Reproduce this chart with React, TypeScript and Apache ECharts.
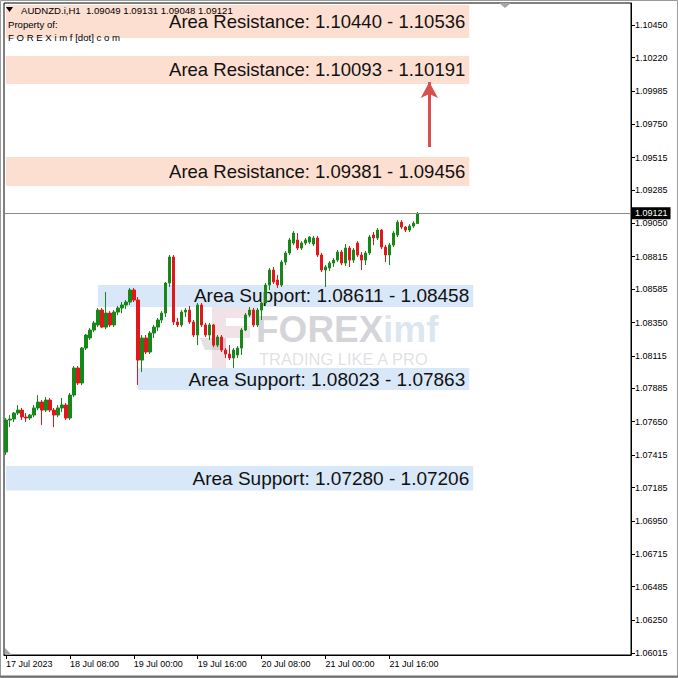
import React, { useEffect, useRef } from "react";
import * as echarts from "echarts";

// ---------- DATA ----------
const symbolTitle = "AUDNZD.i,H1";
const headerOHLC = ["1.09049", "1.09131", "1.09048", "1.09121"];
const lastPrice = 1.09121;
const totalSlots = 157; // hourly slots visible on the chart (bars + empty shift area)
const firstBarUTC = Date.UTC(2023, 6, 17, 16);

// [open, close, low, high]
const candles: number[][] = [
  [1.07436, 1.07662, 1.07415, 1.07676],
  [1.07662, 1.07669, 1.07612, 1.07697],
  [1.07669, 1.07711, 1.07648, 1.07718],
  [1.07711, 1.07732, 1.07697, 1.07768],
  [1.07732, 1.07683, 1.07662, 1.07747],
  [1.07683, 1.07676, 1.07648, 1.07711],
  [1.07676, 1.07697, 1.07662, 1.07704],
  [1.07697, 1.07747, 1.07683, 1.07768],
  [1.07747, 1.07789, 1.07732, 1.07838],
  [1.07789, 1.07732, 1.07627, 1.07803],
  [1.07732, 1.07803, 1.07718, 1.07824],
  [1.07803, 1.07732, 1.07718, 1.07817],
  [1.07732, 1.07697, 1.07612, 1.07747],
  [1.07697, 1.07747, 1.07683, 1.07768],
  [1.07747, 1.07768, 1.07718, 1.07817],
  [1.07768, 1.07676, 1.07662, 1.07782],
  [1.07676, 1.07838, 1.07662, 1.07852],
  [1.07838, 1.08029, 1.07824, 1.08043],
  [1.08029, 1.07923, 1.07909, 1.08043],
  [1.07923, 1.0817, 1.07909, 1.08177],
  [1.0817, 1.08262, 1.08156, 1.08269],
  [1.08241, 1.08297, 1.08227, 1.08311],
  [1.08297, 1.08347, 1.08283, 1.08361],
  [1.08333, 1.08438, 1.08318, 1.08453],
  [1.08438, 1.08318, 1.08311, 1.08453],
  [1.08318, 1.08417, 1.08304, 1.08566],
  [1.08417, 1.08333, 1.08318, 1.08431],
  [1.08333, 1.08424, 1.08318, 1.08438],
  [1.08424, 1.08453, 1.08403, 1.08467],
  [1.08453, 1.08474, 1.08417, 1.08495],
  [1.08474, 1.08495, 1.08446, 1.08509],
  [1.08495, 1.0858, 1.08474, 1.08594],
  [1.0858, 1.08509, 1.08495, 1.08594],
  [1.08509, 1.08085, 1.07909, 1.0853],
  [1.08085, 1.08241, 1.08001, 1.08262],
  [1.08241, 1.08142, 1.08128, 1.08262],
  [1.08142, 1.08276, 1.08128, 1.0829],
  [1.08276, 1.08318, 1.08241, 1.08333],
  [1.08318, 1.08368, 1.0829, 1.08382],
  [1.08368, 1.08417, 1.08347, 1.08431],
  [1.08417, 1.08629, 1.08389, 1.08636],
  [1.08629, 1.08813, 1.08601, 1.08827],
  [1.08813, 1.08354, 1.08333, 1.08827],
  [1.08354, 1.08333, 1.08318, 1.08382],
  [1.08333, 1.08424, 1.08318, 1.08438],
  [1.08424, 1.08438, 1.08389, 1.08453],
  [1.08438, 1.08354, 1.0834, 1.08467],
  [1.08354, 1.08262, 1.08248, 1.08368],
  [1.08262, 1.08474, 1.08191, 1.08488],
  [1.08474, 1.08333, 1.08318, 1.08488],
  [1.08333, 1.08262, 1.08248, 1.08347],
  [1.08262, 1.08333, 1.08227, 1.08347],
  [1.08333, 1.08191, 1.08177, 1.0834],
  [1.08191, 1.08248, 1.08177, 1.08262],
  [1.08248, 1.08156, 1.08142, 1.08262],
  [1.08156, 1.08128, 1.081, 1.0817],
  [1.08128, 1.081, 1.08085, 1.08191],
  [1.081, 1.08156, 1.08029, 1.0817],
  [1.08121, 1.0817, 1.081, 1.08184],
  [1.0817, 1.08297, 1.08121, 1.08311],
  [1.08297, 1.08403, 1.0829, 1.08417],
  [1.08403, 1.08438, 1.08389, 1.0846],
  [1.08438, 1.08333, 1.08318, 1.08453],
  [1.08333, 1.08438, 1.08318, 1.08453],
  [1.08438, 1.08488, 1.08368, 1.08495],
  [1.08488, 1.08615, 1.08474, 1.08629],
  [1.08615, 1.08721, 1.0858, 1.08735],
  [1.08721, 1.08636, 1.08622, 1.08742],
  [1.0865, 1.08615, 1.08594, 1.08686],
  [1.08615, 1.08777, 1.08601, 1.08791],
  [1.08777, 1.08841, 1.08756, 1.08855],
  [1.08841, 1.08933, 1.08827, 1.08947],
  [1.08911, 1.08982, 1.08897, 1.08996],
  [1.08933, 1.08876, 1.08862, 1.08982],
  [1.08876, 1.08911, 1.08862, 1.08925],
  [1.08911, 1.08933, 1.08897, 1.08947],
  [1.08918, 1.08954, 1.08904, 1.08961],
  [1.08904, 1.08947, 1.0889, 1.08961],
  [1.08947, 1.08827, 1.08813, 1.08961],
  [1.08827, 1.08721, 1.08707, 1.08841],
  [1.08721, 1.08742, 1.08601, 1.08756],
  [1.08735, 1.0877, 1.08714, 1.08784],
  [1.0877, 1.08791, 1.08742, 1.08805],
  [1.08791, 1.08848, 1.08777, 1.08862],
  [1.08848, 1.0877, 1.08756, 1.08862],
  [1.0877, 1.08876, 1.08749, 1.08904],
  [1.08876, 1.08791, 1.08742, 1.0889],
  [1.08791, 1.08862, 1.0877, 1.08876],
  [1.08911, 1.08827, 1.08813, 1.08925],
  [1.08827, 1.08791, 1.08721, 1.08848],
  [1.08791, 1.08841, 1.08756, 1.08855],
  [1.08841, 1.08954, 1.08827, 1.08968],
  [1.08968, 1.08947, 1.08897, 1.08989],
  [1.08947, 1.09003, 1.08933, 1.09017],
  [1.09003, 1.08883, 1.08869, 1.0901],
  [1.08883, 1.08827, 1.08777, 1.08897],
  [1.08827, 1.08897, 1.08756, 1.08911],
  [1.08897, 1.08982, 1.08883, 1.08996],
  [1.08968, 1.09059, 1.08954, 1.09073],
  [1.09059, 1.09024, 1.0901, 1.09073],
  [1.09024, 1.09003, 1.08989, 1.09031],
  [1.09003, 1.09031, 1.08989, 1.09045],
  [1.09031, 1.09052, 1.09017, 1.09066],
  [1.09049, 1.09121, 1.09048, 1.09131],
];

const xTickLabels = [
  "17 Jul 2023",
  "18 Jul 08:00",
  "19 Jul 00:00",
  "19 Jul 16:00",
  "20 Jul 08:00",
  "21 Jul 00:00",
  "21 Jul 16:00",
];
const xTickEvery = 16;

const yTickValues = [
  1.06015, 1.0625, 1.06485, 1.06715, 1.0695, 1.07185, 1.07415, 1.0765, 1.07885,
  1.08115, 1.0835, 1.08585, 1.08815, 1.0905, 1.09285, 1.09515, 1.0975, 1.09985,
  1.1022, 1.1045,
];
const yMin = 1.06003;
const yMax = 1.10606;

const zoneLabels = [
  "Area Resistance: 1.10440 - 1.10536",
  "Area Resistance: 1.10093 - 1.10191",
  "Area Resistance: 1.09381 - 1.09456",
  "Area Support: 1.08611 - 1.08458",
  "Area Support: 1.08023 - 1.07863",
  "Area Support: 1.07280 - 1.07206",
];
const zoneIsResistance = [true, true, true, false, false, false];
const zoneHigh = [1.10592, 1.10232, 1.09519, 1.08615, 1.08029, 1.07337];
const zoneLow = [1.10359, 1.10034, 1.09314, 1.0846, 1.07874, 1.07164];
const zoneFromBar = [0, 0, 0, 23, 33, 0];
const zoneToBar = [116, 116, 116, 117, 116, 117];

const arrowBar = 106;
const arrowFrom = 1.09589;
const arrowTo = 1.10048;

// ---------- STYLE ----------
const FONT = "'Liberation Sans', Arial, sans-serif";
const UP = "#17871a";
const DOWN = "#e3161b";

function buildOption() {
  const categories = Array.from({ length: totalSlots }, (_, i) => {
    const d = new Date(firstBarUTC + i * 3600000);
    return `${d.getUTCDate()} Jul ${String(d.getUTCHours()).padStart(2, "0")}:00`;
  });
  const tickShown = (idx: number) =>
    idx % xTickEvery === 0 && idx / xTickEvery < xTickLabels.length;

  const markAreaData = zoneLabels.map((lbl, i) => [
    {
      name: lbl,
      xAxis: zoneFromBar[i],
      yAxis: zoneHigh[i],
      itemStyle: { color: zoneIsResistance[i] ? "#fcdfd0" : "#d9e8f8", opacity: 1 },
      label: {
        show: true,
        position: "insideRight",
        distance: 4,
        formatter: lbl,
        color: "#111",
        fontSize: zoneIsResistance[i] ? 18.5 : 19,
        fontFamily: FONT,
      },
    },
    { xAxis: zoneToBar[i], yAxis: zoneLow[i] },
  ]);

  const headerStyle = {
    fontSize: 9.6,
    fontFamily: FONT,
    fill: "#000",
    verticalAlign: "middle",
  };

  return {
    animation: false,
    backgroundColor: "#ffffff",
    textStyle: { fontFamily: FONT },
    grid: {
      left: 4,
      right: 47,
      top: 3,
      bottom: 23,
      show: true,
      borderColor: "#000",
      borderWidth: 1,
      backgroundColor: "transparent",
    },
    xAxis: {
      type: "category",
      data: categories,
      boundaryGap: true,
      axisLine: { show: true, lineStyle: { color: "#000", width: 1 } },
      axisTick: {
        show: true,
        alignWithLabel: true,
        interval: (idx: number) => tickShown(idx),
        length: 4,
        lineStyle: { color: "#000" },
      },
      axisLabel: {
        show: true,
        interval: (idx: number) => tickShown(idx),
        formatter: (_v: string, idx: number) =>
          tickShown(idx) ? xTickLabels[idx / xTickEvery] : "",
        align: "left",
        margin: 4,
        fontSize: 9,
        color: "#000",
        fontFamily: FONT,
      },
      splitLine: { show: false },
    },
    yAxis: {
      type: "value",
      position: "right",
      min: yMin,
      max: yMax,
      scale: true,
      axisLine: { show: true, lineStyle: { color: "#000", width: 1 } },
      axisTick: {
        show: true,
        length: 4,
        customValues: yTickValues,
        lineStyle: { color: "#000" },
      },
      axisLabel: {
        show: true,
        customValues: yTickValues,
        formatter: (v: number) => v.toFixed(5),
        margin: 4,
        fontSize: 9,
        color: "#000",
        fontFamily: FONT,
      },
      splitLine: { show: false },
    },
    graphic: [
      // window frame
      {
        type: "rect",
        shape: { x: 0.5, y: 0.5, width: 677, height: 677 },
        style: { fill: "none", stroke: "#9a9a9a", lineWidth: 1 },
        z: 20,
        silent: true,
      },
      {
        type: "line",
        shape: { x1: 0, y1: 676.5, x2: 678, y2: 676.5 },
        style: { stroke: "#6f6f6f", lineWidth: 2 },
        z: 20,
        silent: true,
      },
      // chart shift marker
      {
        type: "polygon",
        shape: { points: [[499, 3], [511, 3], [505, 8]] },
        style: { fill: "#a5a5a5" },
        z: 20,
      },
      {
        type: "polygon",
        shape: { points: [[5, 648], [5, 655], [12, 655]] },
        style: { fill: "#a5a5a5" },
        z: 20,
      },
      // header
      {
        type: "polygon",
        shape: { points: [[6, 7], [13, 7], [9.5, 12]] },
        style: { fill: "#000" },
        z: 20,
      },
      {
        type: "text",
        x: 21,
        y: 10,
        style: { ...headerStyle, text: `${symbolTitle}  ${headerOHLC.join(" ")}` },
        z: 20,
      },
      {
        type: "text",
        x: 8,
        y: 24,
        style: { ...headerStyle, text: "Property of:" },
        z: 20,
      },
      {
        type: "text",
        x: 8,
        y: 37,
        style: { ...headerStyle, text: "F O R E X i m f [dot] c o m" },
        z: 20,
      },
      // watermark logo
      {
        type: "group",
        z: 1,
        silent: true,
        children: [
          {
            type: "polygon",
            shape: {
              points: [[212, 304], [258, 304], [258, 318], [226, 318], [226, 326], [250, 326], [250, 338], [226, 338], [226, 372], [212, 372]],
            },
            style: { fill: "rgba(200,150,165,0.28)" },
          },
          {
            type: "polygon",
            shape: { points: [[200, 338], [226, 338], [226, 350], [205, 350]] },
            style: { fill: "rgba(140,140,150,0.25)" },
          },
          {
            type: "text",
            x: 256,
            y: 329,
            style: {
              text: "FOREX",
              fontSize: 37,
              fontWeight: "bold",
              fontFamily: FONT,
              fill: "rgba(120,120,135,0.32)",
              verticalAlign: "middle",
            },
          },
          {
            type: "text",
            x: 383,
            y: 329,
            style: {
              text: "imf",
              fontSize: 37,
              fontWeight: "bold",
              fontFamily: FONT,
              fill: "rgba(140,175,210,0.32)",
              verticalAlign: "middle",
            },
          },
          {
            type: "text",
            x: 259,
            y: 359,
            style: {
              text: "TRADING LIKE A PRO",
              fontSize: 16.5,
              fontFamily: FONT,
              fill: "rgba(150,150,160,0.30)",
              verticalAlign: "middle",
            },
          },
        ],
      },
    ],
    series: [
      {
        type: "candlestick",
        data: candles,
        barWidth: 3,
        z: 3,
        itemStyle: {
          color: UP,
          color0: DOWN,
          borderColor: UP,
          borderColor0: DOWN,
          borderWidth: 1,
        },
        markArea: {
          silent: true,
          z: 1,
          data: markAreaData,
        },
        markLine: {
          silent: true,
          precision: 5,
          symbol: ["none", "none"],
          animation: false,
          data: [
            {
              yAxis: lastPrice,
              lineStyle: { color: "#8a8a8a", width: 1, type: "solid" },
              label: {
                show: true,
                position: "end",
                distance: 1,
                formatter: lastPrice.toFixed(5),
                backgroundColor: "#000",
                color: "#fff",
                fontSize: 9,
                fontFamily: FONT,
                padding: [2, 3, 1, 3],
              },
            },
            [
              {
                xAxis: arrowBar,
                yAxis: arrowFrom,
                symbol: "none",
                lineStyle: { color: "#d8504e", width: 3, type: "solid" },
                label: { show: false },
              },
              {
                xAxis: arrowBar,
                yAxis: arrowTo,
                symbol: "arrow",
                symbolSize: [13, 16],
              },
            ],
          ],
        },
      },
    ],
  };
}

export default function App() {
  const ref = useRef<HTMLDivElement>(null);
  useEffect(() => {
    document.body.style.margin = "0";
    if (!ref.current) return;
    const chart = echarts.init(ref.current, null, { renderer: "svg" });
    chart.setOption(buildOption() as any);
    return () => chart.dispose();
  }, []);
  return <div ref={ref} style={{ width: 678, height: 678, background: "#fff" }} />;
}
